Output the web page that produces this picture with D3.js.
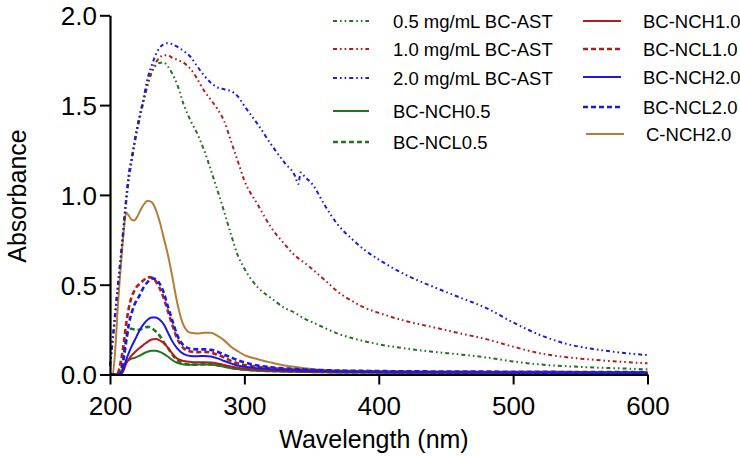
<!DOCTYPE html>
<html>
<head>
<meta charset="utf-8">
<script src="https://cdn.jsdelivr.net/npm/d3@7"></script>
<style>
  html, body { margin: 0; padding: 0; background: #fff; }
  svg { display: block; font-family: "Liberation Sans", Arial, sans-serif; }
</style>
</head>
<body>
<svg id="chart" width="740" height="456"></svg>
<script>
// ---------------- DATA ----------------
const wavelengths = [200,202,204,206,208,210,212,214,216,218,220,222,
  225,228,231,234,237, 240,243,246,
  250,255,260,265,270,275,280,285,290,295,300,
  310,320,330, 338,340,342,345, 350,360,370,380,390,400,
  420,440,460,480,500,520,540,560,580,600];

const ast05 = [0.05,0.18,0.33,0.48,0.63,0.79,0.95,1.08,1.18,1.27,1.35,1.42,
  1.52,1.61,1.68,1.72,1.735, 1.737,1.715,1.68,
  1.615,1.50,1.413,1.34,1.25,1.14,1.025,0.905,0.78,0.665,0.59,
  0.485,0.425,0.37, 0.342,0.332,0.322,0.31, 0.293,0.258,0.226,0.203,0.184,0.168,
  0.145,0.127,0.112,0.095,0.073,0.056,0.046,0.039,0.034,0.029];

const ast10 = [0.05,0.19,0.35,0.50,0.65,0.81,0.97,1.10,1.19,1.28,1.36,1.43,
  1.53,1.62,1.69,1.735,1.765, 1.778,1.778,1.765,
  1.752,1.735,1.70,1.645,1.58,1.53,1.478,1.41,1.30,1.19,1.08,
  0.945,0.818,0.725, 0.66,0.648,0.637,0.62, 0.59,0.525,0.458,0.41,0.37,0.343,
  0.298,0.264,0.23,0.197,0.155,0.118,0.096,0.082,0.071,0.062];

const ast20 = [0.05,0.20,0.36,0.51,0.66,0.82,0.98,1.12,1.20,1.29,1.37,1.44,
  1.54,1.65,1.72,1.78,1.82, 1.84,1.845,1.84,
  1.825,1.80,1.768,1.715,1.665,1.625,1.598,1.588,1.578,1.55,1.495,
  1.393,1.28,1.178, 1.10,1.06,1.125,1.10, 1.065,0.94,0.83,0.755,0.69,0.64,
  0.555,0.49,0.43,0.37,0.29,0.22,0.17,0.142,0.122,0.108];

const nch05 = [0,0,0,0,0.01,0.045,0.072,0.08,0.088,0.092,0.098,0.105,
  0.117,0.127,0.132,0.132,0.126, 0.115,0.1,0.082,
  0.065,0.056,0.054,0.055,0.056,0.055,0.05,0.043,0.035,0.03,0.026,
  0.021,0.018,0.016, 0.015,0.015,0.014,0.014, 0.013,0.012,0.011,0.011,0.011,0.011,
  0.01,0.01,0.009,0.009,0.008,0.008,0.008,0.007,0.007,0.007];

const ncl05 = [0,0,0,0,0.02,0.1,0.2,0.25,0.255,0.25,0.248,0.25,
  0.258,0.265,0.258,0.24,0.215, 0.18,0.15,0.115,
  0.08,0.06,0.055,0.055,0.057,0.056,0.052,0.045,0.038,0.032,0.028,
  0.023,0.02,0.018, 0.017,0.017,0.016,0.016, 0.015,0.014,0.014,0.013,0.013,0.013,
  0.012,0.012,0.011,0.011,0.01,0.01,0.01,0.009,0.009,0.009];

const nch10 = [0,0,0,0,0,0.02,0.06,0.085,0.105,0.12,0.135,0.148,
  0.165,0.182,0.195,0.197,0.19, 0.175,0.15,0.12,
  0.088,0.075,0.07,0.068,0.068,0.067,0.062,0.053,0.045,0.038,0.033,
  0.027,0.022,0.019, 0.018,0.017,0.017,0.016, 0.015,0.014,0.013,0.013,0.012,0.012,
  0.011,0.011,0.01,0.01,0.009,0.009,0.009,0.008,0.008,0.008];

const ncl10 = [0,0,0,0.01,0.07,0.16,0.28,0.37,0.43,0.465,0.49,0.505,
  0.525,0.542,0.54,0.52,0.48, 0.425,0.355,0.285,
  0.2,0.145,0.128,0.124,0.126,0.122,0.11,0.095,0.075,0.062,0.053,
  0.042,0.035,0.03, 0.028,0.027,0.026,0.025, 0.024,0.022,0.02,0.019,0.018,0.017,
  0.016,0.015,0.015,0.014,0.014,0.013,0.013,0.012,0.012,0.012];

const nch20 = [0,0,0,0,0.005,0.03,0.08,0.12,0.155,0.185,0.215,0.245,
  0.28,0.305,0.318,0.318,0.305, 0.28,0.235,0.19,
  0.145,0.113,0.103,0.102,0.103,0.1,0.09,0.075,0.062,0.05,0.043,
  0.035,0.029,0.025, 0.023,0.022,0.022,0.021, 0.02,0.018,0.016,0.015,0.014,0.013,
  0.012,0.012,0.011,0.011,0.01,0.01,0.01,0.009,0.009,0.009];

const ncl20 = [0,0,0,0,0.01,0.08,0.18,0.28,0.34,0.385,0.415,0.44,
  0.485,0.515,0.535,0.53,0.505, 0.455,0.38,0.31,
  0.22,0.16,0.143,0.14,0.14,0.137,0.127,0.11,0.095,0.08,0.068,
  0.05,0.04,0.034, 0.031,0.03,0.029,0.028, 0.026,0.024,0.022,0.021,0.02,0.019,
  0.018,0.017,0.016,0.016,0.015,0.015,0.014,0.014,0.013,0.013];

const cnch20 = [0,0,0.15,0.40,0.60,0.78,0.90,0.885,0.862,0.858,0.875,0.905,
  0.945,0.968,0.96,0.92,0.85, 0.76,0.67,0.56,
  0.40,0.27,0.232,0.228,0.232,0.232,0.215,0.19,0.155,0.13,0.108,
  0.085,0.066,0.05, 0.042,0.04,0.038,0.035, 0.03,0.022,0.018,0.015,0.013,0.011,
  0.009,0.008,0.007,0.006,0.005,0.005,0.004,0.004,0.004,0.004];

const seriesLabels = ["0.5 mg/mL BC-AST","1.0 mg/mL BC-AST","2.0 mg/mL BC-AST",
  "BC-NCH0.5","BC-NCL0.5","BC-NCH1.0","BC-NCL1.0","BC-NCH2.0","BC-NCL2.0","C-NCH2.0"];
const xTicks = [200,300,400,500,600];
const yTicks = [0,0.5,1.0,1.5,2.0];
const xTitle = "Wavelength (nm)";
const yTitle = "Absorbance";

// ---------------- STYLE ----------------
const GREEN = "#1e751e", RED = "#b21c1c", BLUE = "#1a1ae0", BROWN = "#b47e38";
const DASHDOT = "4,3,1.6,3,1.6,3";
const DASH = "5,3";

const series = [
  {label: seriesLabels[0], values: ast05, color: GREEN, dash: DASHDOT, w: 2},
  {label: seriesLabels[1], values: ast10, color: RED,   dash: DASHDOT, w: 2},
  {label: seriesLabels[2], values: ast20, color: BLUE,  dash: DASHDOT, w: 2},
  {label: seriesLabels[3], values: nch05, color: GREEN, dash: null, w: 2},
  {label: seriesLabels[4], values: ncl05, color: GREEN, dash: DASH, w: 2.6},
  {label: seriesLabels[5], values: nch10, color: RED,   dash: null, w: 2},
  {label: seriesLabels[6], values: ncl10, color: RED,   dash: DASH, w: 2.6},
  {label: seriesLabels[7], values: nch20, color: BLUE,  dash: null, w: 2},
  {label: seriesLabels[8], values: ncl20, color: BLUE,  dash: DASH, w: 2.6},
  {label: seriesLabels[9], values: cnch20, color: BROWN, dash: null, w: 2}
];

const svg = d3.select("#chart");
const x = d3.scaleLinear().domain([200, 600]).range([110, 647.5]);
const y = d3.scaleLinear().domain([0, 2]).range([374.5, 15.3]);

// lines (low curves first, AST on top)
const line = d3.line()
  .x(d => x(d[0])).y(d => y(d[1]))
  .curve(d3.curveMonotoneX);

const drawOrder = [9, 3, 4, 5, 6, 7, 8, 0, 1, 2];
const gLines = svg.append("g");
drawOrder.forEach(i => {
  const s = series[i];
  gLines.append("path")
    .datum(wavelengths.map((w, k) => [w, s.values[k]]))
    .attr("fill", "none")
    .attr("stroke", s.color)
    .attr("stroke-width", s.w)
    .attr("stroke-dasharray", s.dash)
    .attr("stroke-linejoin", "round")
    .attr("d", line);
});

// axes
const xAxis = svg.append("g")
  .attr("transform", `translate(0,${y(0)})`)
  .call(d3.axisBottom(x).tickValues(xTicks).tickFormat(d3.format("d")).tickSize(10).tickSizeOuter(0));
const yAxis = svg.append("g")
  .attr("transform", `translate(${x(200)},0)`)
  .call(d3.axisLeft(y).tickValues(yTicks).tickFormat(d3.format(".1f")).tickSize(10).tickSizeOuter(0));

[xAxis, yAxis].forEach(g => {
  g.select(".domain").attr("stroke", "#000").attr("stroke-width", 2.2);
  g.selectAll(".tick line").attr("stroke", "#000").attr("stroke-width", 2);
  g.selectAll(".tick text").attr("fill", "#000")
    .style("font-family", '"Liberation Sans", Arial, sans-serif')
    .style("font-size", "26px");
});
xAxis.selectAll(".tick text").attr("y", 40.5).attr("dy", 0);
yAxis.selectAll(".tick text").attr("x", -13).attr("dy", "0.36em");

svg.append("text")
  .attr("x", 374).attr("y", 448)
  .attr("text-anchor", "middle")
  .style("font-size", "25px")
  .text(xTitle);
svg.append("text")
  .attr("transform", "translate(26,196) rotate(-90)")
  .attr("text-anchor", "middle")
  .style("font-size", "25px")
  .text(yTitle);

// legend
const legendPos = [
  {x0: 333, x1: 369, tx: 393, y: 21},
  {x0: 333, x1: 369, tx: 393, y: 49},
  {x0: 333, x1: 369, tx: 393, y: 78},
  {x0: 333, x1: 369, tx: 393, y: 111},
  {x0: 333, x1: 369, tx: 393, y: 142},
  {x0: 583, x1: 621, tx: 643, y: 21},
  {x0: 583, x1: 621, tx: 643, y: 49},
  {x0: 583, x1: 621, tx: 643, y: 77},
  {x0: 583, x1: 621, tx: 643, y: 107},
  {x0: 586, x1: 624, tx: 646, y: 134}
];
const gLeg = svg.append("g");
series.forEach((s, i) => {
  const p = legendPos[i];
  gLeg.append("line")
    .attr("x1", p.x0).attr("x2", p.x1).attr("y1", p.y).attr("y2", p.y)
    .attr("stroke", s.color).attr("stroke-width", s.w)
    .attr("stroke-dasharray", s.dash);
  gLeg.append("text")
    .attr("x", p.tx).attr("y", p.y).attr("dy", "0.36em")
    .style("font-size", "18.5px")
    .attr("fill", "#000")
    .text(s.label);
});
</script>
</body>
</html>
